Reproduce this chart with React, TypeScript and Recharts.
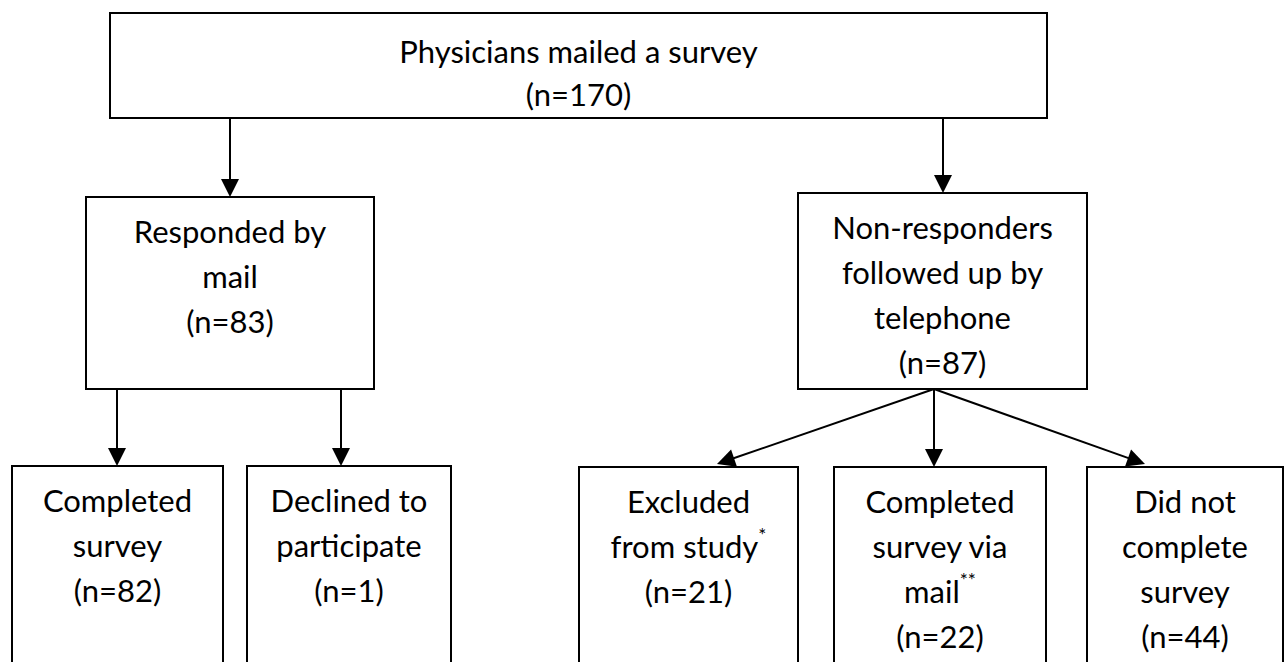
import React from "react";
import {
  ComposedChart,
  XAxis,
  YAxis,
  Scatter,
  ReferenceArea,
  ReferenceLine,
} from "recharts";

// Flow of physicians through the survey
const stages = [
  "Physicians mailed a survey",
  "Responded by mail",
  "Non-responders followed up by telephone",
  "Completed survey",
  "Declined to participate",
  "Excluded from study",
  "Completed survey via mail",
  "Did not complete survey",
];
const counts = [170, 83, 87, 82, 1, 21, 22, 44];
const notes = ["", "", "", "", "", "*", "**", ""];

// how each stage label wraps inside its box
const wrapped = [
  ["Physicians mailed a survey"],
  ["Responded by", "mail"],
  ["Non-responders", "followed up by", "telephone"],
  ["Completed", "survey"],
  ["Declined to", "participate"],
  ["Excluded", "from study"],
  ["Completed", "survey via", "mail"],
  ["Did not", "complete", "survey"],
];

// parent -> child links
const links = [
  [0, 1],
  [0, 2],
  [1, 3],
  [1, 4],
  [2, 5],
  [2, 6],
  [2, 7],
];

// box layout in page pixels: [x1, x2, y1, y2]
const boxLayout = [
  [110, 1047, 13, 118],
  [86, 374, 197, 389],
  [798, 1087, 193, 389],
  [12, 223, 466, 700],
  [247, 451, 466, 700],
  [579, 798, 467, 700],
  [834, 1046, 467, 700],
  [1087, 1283, 467, 700],
];

// arrow start and tip points
const arrowLayout = [
  [230, 118, 230, 197],
  [943, 118, 943, 193],
  [117, 389, 117, 466],
  [341, 389, 341, 466],
  [934, 389, 717, 464],
  [934, 389, 934, 467],
  [934, 389, 1145, 464],
];

const W = 1285;
const H = 662;
const FONT = "Lato, 'Open Sans', sans-serif";
const HEAD = 18;

const labelData = stages.map((s, i) => {
  const [x1, x2, y1] = boxLayout[i];
  return {
    name: s,
    x: (x1 + x2) / 2,
    y: i === 0 ? y1 + 38 : y1 + 34,
    lh: i === 0 ? 43 : 45,
    lines: [...wrapped[i], `(n=${counts[i]})`],
    note: notes[i],
    noteLine: wrapped[i].length - 1,
  };
});

const arrowData = links.map(([from, to], i) => {
  const [sx, sy, tx, ty] = arrowLayout[i];
  const ang = (Math.atan2(ty - sy, tx - sx) * 180) / Math.PI;
  return { from: stages[from], to: stages[to], sx, sy, x: tx, y: ty, angle: ang };
});

const LabelShape = (props: any) => {
  const { cx, cy, payload } = props;
  return (
    <g>
      {payload.lines.map((ln: string, j: number) => (
        <text
          key={j}
          x={cx}
          y={cy + j * payload.lh}
          textAnchor="middle"
          dominantBaseline="central"
          fontFamily={FONT}
          fontSize={31}
          fill="#000"
        >
          {ln}
          {payload.note && j === payload.noteLine ? (
            <tspan fontSize={19} dy={-12}>
              {payload.note}
            </tspan>
          ) : null}
        </text>
      ))}
    </g>
  );
};

const HeadShape = (props: any) => {
  const { cx, cy, payload } = props;
  const pts = `${cx},${cy} ${cx - HEAD},${cy - HEAD / 2} ${cx - HEAD},${cy + HEAD / 2}`;
  return <polygon points={pts} fill="#000" transform={`rotate(${payload.angle} ${cx} ${cy})`} />;
};

const App = () => {
  return (
    <div style={{ position: "absolute", left: 0, top: 0, background: "#fff" }}>
      <ComposedChart width={W} height={H} margin={{ top: 0, right: 0, bottom: 0, left: 0 }}>
        <XAxis type="number" dataKey="x" domain={[0, W]} allowDataOverflow hide />
        <YAxis type="number" dataKey="y" domain={[0, H]} allowDataOverflow reversed hide />
        {boxLayout.map(([x1, x2, y1, y2], i) => (
          <ReferenceArea
            key={stages[i]}
            x1={x1}
            x2={x2}
            y1={y1}
            y2={y2}
            ifOverflow="visible"
            fill="#fff"
            fillOpacity={1}
            stroke="#000"
            strokeWidth={2}
          />
        ))}
        {arrowData.map((a, i) => {
          const len = Math.hypot(a.x - a.sx, a.y - a.sy);
          const ex = a.x - ((a.x - a.sx) / len) * (HEAD - 2);
          const ey = a.y - ((a.y - a.sy) / len) * (HEAD - 2);
          return (
            <ReferenceLine
              key={i}
              segment={[
                { x: a.sx, y: a.sy },
                { x: ex, y: ey },
              ]}
              ifOverflow="visible"
              stroke="#000"
              strokeWidth={2}
            />
          );
        })}
        <Scatter data={arrowData} shape={HeadShape} isAnimationActive={false} />
        <Scatter data={labelData} shape={LabelShape} isAnimationActive={false} />
      </ComposedChart>
    </div>
  );
};

export default App;
